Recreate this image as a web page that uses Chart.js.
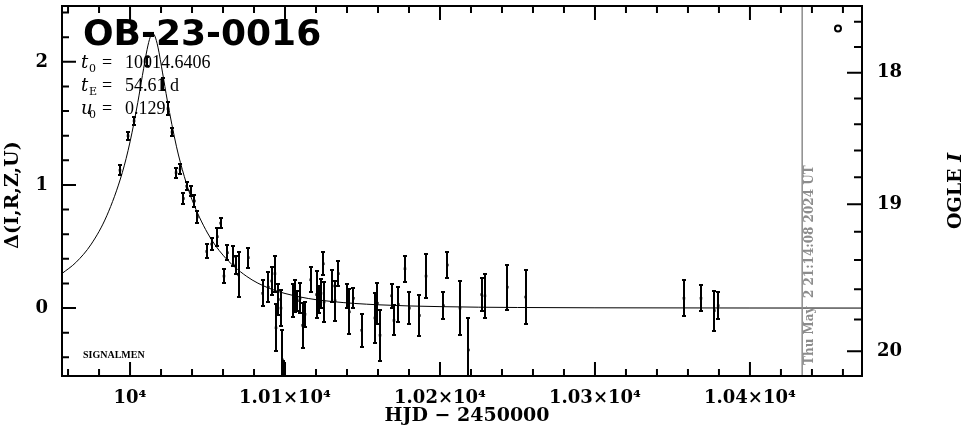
<!DOCTYPE html>
<html>
<head>
<meta charset="utf-8">
<script src="https://cdn.jsdelivr.net/npm/chart.js@4.4.0/dist/chart.umd.min.js"></script>
<style>
    body { margin: 0; background: #fff; }
    #wrap { width: 965px; height: 434px; position: relative; }
</style>
</head>
<body>
<div id="wrap"><canvas id="lightCurve"></canvas></div>
<script>
// OGLE photometry (HJD - 2450000, delta, error)
const hjd = [9993.5, 9998.7, 10002.6, 10010.8, 10021.3, 10024.5, 10027.1, 10029.7, 10032.3, 10034.4,
    10036.6, 10039.1, 10041.5, 10043.4, 10049.5, 10052.7, 10056.3, 10058.5, 10060.6, 10062.8,
    10066.7, 10068.2, 10070.1, 10076.3, 10085.6, 10089.2, 10091.4, 10093.5, 10094.2, 10095.7,
    10097.4, 10098.3, 10099.0, 10105.4, 10106.7, 10108.0, 10109.7, 10111.4, 10112.9, 10116.6,
    10120.4, 10121.9, 10123.2, 10124.7, 10125.2, 10130.5, 10132.3, 10134.4, 10140.2, 10141.5,
    10144.1, 10149.5, 10158.0, 10159.6, 10161.3, 10168.8, 10170.3, 10173.1, 10177.4, 10180.2,
    10186.7, 10191.0, 10202.2, 10204.7, 10212.9, 10218.3, 10226.9, 10229.0, 10243.4, 10255.3,
    10357.4, 10368.4, 10377.0, 10379.5];
const delta = [1.12, 1.40, 1.52, 2.00, 1.82, 1.62, 1.43, 1.10, 1.13, 0.89,
    0.99, 0.95, 0.87, 0.74, 0.46, 0.52, 0.58, 0.69, 0.26, 0.45,
    0.42, 0.35, 0.27, 0.41, 0.12, 0.17, 0.22, 0.28, -0.16, 0.07,
    0.00, -0.42, -0.62, 0.06, 0.10, 0.06, 0.08, -0.14, -0.05, 0.23,
    0.11, 0.07, 0.12, 0.36, 0.05, 0.18, 0.06, 0.28, 0.10, -0.03,
    0.08, -0.18, -0.08, 0.04, -0.22, 0.10, -0.10, 0.03, 0.32, 0.00,
    -0.06, 0.26, 0.02, 0.35, 0.00, -0.34, 0.11, 0.10, 0.17, 0.09,
    0.08, 0.08, -0.02, 0.02];
const deltaErr = [0.05, 0.04, 0.04, 0.045, 0.06, 0.06, 0.04, 0.05, 0.05, 0.05,
    0.04, 0.05, 0.06, 0.06, 0.065, 0.06, 0.08, 0.05, 0.065, 0.07,
    0.09, 0.08, 0.19, 0.09, 0.115, 0.13, 0.12, 0.155, 0.2, 0.13,
    0.155, 0.25, 0.2, 0.14, 0.14, 0.09, 0.13, 0.19, 0.11, 0.11,
    0.2, 0.12, 0.125, 0.10, 0.17, 0.14, 0.17, 0.11, 0.105, 0.19,
    0.09, 0.14, 0.21, 0.175, 0.215, 0.105, 0.13, 0.15, 0.115, 0.14,
    0.175, 0.185, 0.12, 0.11, 0.23, 0.27, 0.145, 0.185, 0.19, 0.23,
    0.155, 0.115, 0.17, 0.115];

// model curve
const modelHjd = [9956, 9965, 9975, 9985, 9995, 10000, 10005, 10008, 10011, 10013,
    10014.6, 10016, 10018, 10021, 10024, 10030, 10035, 10040, 10050, 10060,
    10075, 10090, 10110, 10130, 10160, 10200, 10250, 10300, 10400, 10473];
const modelDelta = [0.28, 0.37, 0.52, 0.75, 1.10, 1.35, 1.67, 1.89, 2.10, 2.20,
    2.23, 2.21, 2.12, 1.91, 1.69, 1.31, 1.07, 0.88, 0.61, 0.43,
    0.26, 0.16, 0.09, 0.054, 0.027, 0.012, 0.005, 0.0025, 0.0009, 0.0004];

const xMajorTicks = [10000, 10100, 10200, 10300, 10400];
const xTickLabels = ["10\u2074", "1.01\u00d710\u2074", "1.02\u00d710\u2074", "1.03\u00d710\u2074", "1.04\u00d710\u2074"];
const yMajorTicks = [0, 1, 2];
const yTickLabels = ["0", "1", "2"];
const ogleMags = [20, 19.8, 19.6, 19.4, 19.2, 19, 18.8, 18.6, 18.4, 18.2, 18, 17.8, 17.6];
const ogleTickLabels = ["20", "", "", "", "", "19", "", "", "", "", "18", "", ""];

const eventName = "OB-23-0016";
const fitParams = [["t", "0", "10014.6406"], ["t", "E", "54.61 d"], ["u", "0", "0.129"]];
const nowHjd = 10433.7;
const nowLabel = "Thu May  2 21:14:08 2024 UT";
const markerHjd = [10456.8];
const markerDelta = [2.27];

// right axis: OGLE I magnitude vs delta (baseline + blending)
const baseMag = 19.726;
const blendRatio = 0.235;
const magToDelta = (m) => 2.5 * Math.log10((1 + blendRatio) * Math.pow(10, -0.4 * (m - baseMag)) - blendRatio);

const serif = '"DejaVu Serif"';

const noPad = (s) => {
    s.paddingTop = 0;
    s.paddingBottom = 0;
    s.paddingLeft = 0;
    s.paddingRight = 0;
};

const errorBars = {
    id: "errorBars",
    afterDatasetsDraw(chart) {
        const c = chart.ctx;
        const a = chart.chartArea;
        const x = chart.scales.x;
        const y = chart.scales.y;
        c.save();
        c.beginPath();
        c.rect(a.left, a.top, a.right - a.left, a.bottom - a.top);
        c.clip();
        c.strokeStyle = "#000";
        c.lineWidth = 2;
        for (let i = 0; i < hjd.length; i++) {
            const px = Math.round(x.getPixelForValue(hjd[i]));
            const top = Math.round(y.getPixelForValue(delta[i] + deltaErr[i]));
            const bot = Math.round(y.getPixelForValue(delta[i] - deltaErr[i]));
            c.beginPath();
            c.moveTo(px, top);
            c.lineTo(px, bot);
            c.moveTo(px - 2, top + 1);
            c.lineTo(px + 2, top + 1);
            c.moveTo(px - 2, bot - 1);
            c.lineTo(px + 2, bot - 1);
            c.stroke();
        }
        c.restore();
    },
};

const frameAndText = {
    id: "frameAndText",
    afterDraw(chart) {
        const c = chart.ctx;
        const a = chart.chartArea;
        const x = chart.scales.x;
        const y = chart.scales.y;
        const y2 = chart.scales.y2;
        c.save();

        // now line
        const nx = x.getPixelForValue(nowHjd);
        c.strokeStyle = "#8c8c8c";
        c.lineWidth = 1.5;
        c.beginPath();
        c.moveTo(nx, a.top);
        c.lineTo(nx, a.bottom);
        c.stroke();
        c.save();
        c.translate(nx + 8, 365);
        c.rotate(-Math.PI / 2);
        c.fillStyle = "#8c8c8c";
        c.font = "bold 12px " + serif;
        c.textAlign = "left";
        c.textBaseline = "middle";
        c.fillText(nowLabel, 0, 0);
        c.restore();

        // frame + inward ticks
        c.strokeStyle = "#000";
        c.lineWidth = 2;
        c.strokeRect(a.left, a.top, a.right - a.left, a.bottom - a.top);
        c.beginPath();
        x.ticks.forEach((t) => {
            const px = x.getPixelForValue(t.value);
            const len = xMajorTicks.includes(t.value) ? 14 : 7;
            c.moveTo(px, a.bottom);
            c.lineTo(px, a.bottom - len);
            c.moveTo(px, a.top);
            c.lineTo(px, a.top + len);
        });
        y.ticks.forEach((t) => {
            const py = y.getPixelForValue(t.value);
            const len = yMajorTicks.includes(t.value) ? 14 : 7;
            c.moveTo(a.left, py);
            c.lineTo(a.left + len, py);
        });
        y2.ticks.forEach((t, i) => {
            const py = y2.getPixelForValue(t.value);
            const len = ogleTickLabels[i] ? 15 : 8;
            c.moveTo(a.right, py);
            c.lineTo(a.right - len, py);
        });
        c.stroke();

        c.fillStyle = "#000";
        c.textBaseline = "alphabetic";
        c.textAlign = "left";
        c.font = 'bold 36px "DejaVu Sans"';
        c.fillText(eventName, 83, 45);

        // fit parameters
        fitParams.forEach((p, i) => {
            const base = 68 + i * 23;
            c.font = "italic 18px " + serif;
            c.fillText(p[0], 81, base);
            c.font = "11px " + serif;
            c.fillText(p[1], 89, base + 4);
            c.font = '18px "Liberation Serif"';
            c.fillText("=", 102, base);
            c.fillText(p[2], 125, base);
        });

        c.font = 'bold 10px "Liberation Serif"';
        c.fillText("SIGNALMEN", 83, 358);

        // axis titles
        c.font = "bold 19px " + serif;
        c.textAlign = "center";
        c.textBaseline = "middle";
        c.fillText("HJD \u2212 2450000", (a.left + a.right) / 2 + 5, 416);
        c.save();
        c.translate(13, (a.top + a.bottom) / 2 + 4);
        c.rotate(-Math.PI / 2);
        c.fillText("\u0394(I,R,Z,U)", 0, 0);
        c.restore();
        c.save();
        c.translate(956, (a.top + a.bottom) / 2);
        c.rotate(-Math.PI / 2);
        c.textAlign = "left";
        const w1 = c.measureText("OGLE ").width;
        c.font = "bold italic 19px " + serif;
        const w2 = c.measureText("I").width;
        c.font = "bold 19px " + serif;
        c.fillText("OGLE ", -(w1 + w2) / 2, 0);
        c.font = "bold italic 19px " + serif;
        c.fillText("I", -(w1 + w2) / 2 + w1, 0);
        c.restore();

        c.restore();
    },
};

const ctx = document.getElementById("lightCurve");
new Chart(ctx, {
    type: "scatter",
    data: {
        datasets: [
            {
                type: "line",
                data: modelHjd.map((t, i) => ({ x: t, y: modelDelta[i] })),
                borderColor: "#000",
                borderWidth: 1,
                pointRadius: 0,
                cubicInterpolationMode: "monotone",
            },
            {
                data: hjd.map((t, i) => ({ x: t, y: delta[i] })),
                pointStyle: "rect",
                pointRadius: 1.8,
                backgroundColor: "#000",
                borderWidth: 0,
            },
            {
                data: markerHjd.map((t, i) => ({ x: t, y: markerDelta[i] })),
                pointStyle: "circle",
                pointRadius: 3,
                backgroundColor: "#fff",
                borderColor: "#000",
                borderWidth: 2,
            },
        ],
    },
    options: {
        responsive: true,
        maintainAspectRatio: false,
        animation: false,
        layout: { padding: { top: 1, left: 0, right: 0, bottom: 0 } },
        plugins: { legend: { display: false }, tooltip: { enabled: false } },
        scales: {
            x: {
                type: "linear",
                min: 9956.1,
                max: 10472.3,
                grid: { display: false, drawTicks: false },
                border: { display: false },
                afterBuildTicks: (s) => {
                    const t = [];
                    for (let v = 9960; v <= 10460; v += 20) t.push({ value: v });
                    s.ticks = t;
                },
                afterFit: (s) => { s.height = 58; noPad(s); },
                ticks: {
                    autoSkip: false,
                    maxRotation: 0,
                    padding: 12,
                    color: "#000",
                    font: { family: "DejaVu Serif", weight: "bold", size: 18 },
                    callback: (v) => {
                        const i = xMajorTicks.indexOf(v);
                        return i >= 0 ? xTickLabels[i] : "";
                    },
                },
            },
            y: {
                type: "linear",
                position: "left",
                min: -0.5513,
                max: 2.4535,
                grid: { display: false, drawTicks: false },
                border: { display: false },
                afterBuildTicks: (s) => {
                    const t = [];
                    for (let k = -2; k <= 12; k++) t.push({ value: k / 5 });
                    s.ticks = t;
                },
                afterFit: (s) => { s.width = 62; noPad(s); },
                ticks: {
                    autoSkip: false,
                    padding: 14,
                    color: "#000",
                    font: { family: "DejaVu Serif", weight: "bold", size: 18 },
                    callback: (v) => {
                        const i = yMajorTicks.indexOf(v);
                        return i >= 0 ? yTickLabels[i] : "";
                    },
                },
            },
            y2: {
                type: "linear",
                position: "right",
                min: -0.5513,
                max: 2.4535,
                grid: { display: false, drawTicks: false },
                border: { display: false },
                afterBuildTicks: (s) => {
                    s.ticks = ogleMags.map((m) => ({ value: magToDelta(m) }));
                },
                afterFit: (s) => { s.width = 103; noPad(s); },
                ticks: {
                    autoSkip: false,
                    padding: 15,
                    color: "#000",
                    font: { family: "DejaVu Serif", weight: "bold", size: 18 },
                    callback: (v, i) => ogleTickLabels[i],
                },
            },
        },
    },
    plugins: [errorBars, frameAndText],
});
</script>
</body>
</html>
